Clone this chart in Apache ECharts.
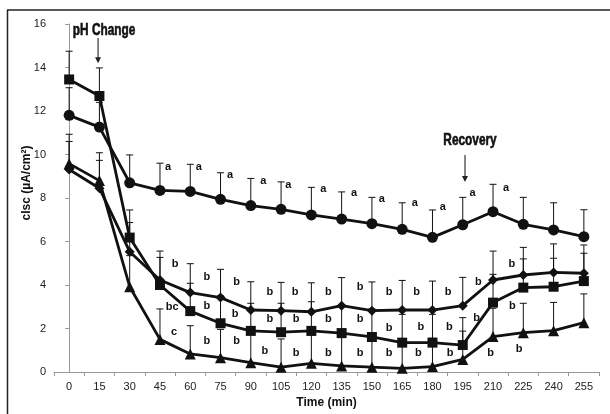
<!DOCTYPE html>
<html>
<head>
<meta charset="utf-8">
<script src="https://cdn.jsdelivr.net/npm/echarts@6/dist/echarts.min.js"></script>
<style>
  html, body { margin: 0; padding: 0; background: #fff; }
  #chart { width: 610px; height: 414px; }
</style>
</head>
<body>
<div id="chart"></div>
<script>
// time points (min)
const times = [0, 15, 30, 45, 60, 75, 90, 105, 120, 135, 150, 165, 180, 195, 210, 225, 240, 255];
const yTicks = [0, 2, 4, 6, 8, 10, 12, 14, 16];

// cIsc means and upper SE per group
const circleMean = [11.8, 11.26, 8.7, 8.35, 8.3, 7.94, 7.65, 7.48, 7.22, 7.03, 6.82, 6.56, 6.19, 6.77, 7.37, 6.79, 6.53, 6.22];
const circleSe = [1.27, 1.14, 1.28, 1.25, 1.25, 1.22, 1.25, 1.26, 1.27, 1.25, 1.21, 1.22, 1.26, 1.26, 1.26, 1.24, 1.25, 1.24];
const squareMean = [13.45, 12.69, 6.18, 4.0, 2.8, 2.24, 1.89, 1.83, 1.89, 1.79, 1.61, 1.35, 1.35, 1.24, 3.19, 3.88, 3.92, 4.18];
const squareSe = [1.3, 1.29, 1.27, 1.27, 1.28, 1.26, 1.27, 1.33, 1.34, 1.31, 1.29, 1.3, 1.3, 1.26, 1.3, 1.32, 1.31, 1.28];
const diamondMean = [9.31, 8.45, 5.53, 4.23, 3.65, 3.42, 2.85, 2.82, 2.77, 3.05, 2.82, 2.85, 2.85, 3.05, 4.23, 4.46, 4.58, 4.54];
const diamondSe = [1.29, 1.28, 1.34, 1.33, 1.33, 1.3, 1.3, 1.3, 1.33, 1.29, 1.32, 1.36, 1.33, 1.3, 1.33, 1.27, 1.31, 1.3];
const triangleMean = [9.58, 8.8, 3.92, 1.5, 0.83, 0.66, 0.43, 0.22, 0.4, 0.28, 0.22, 0.17, 0.25, 0.58, 1.63, 1.81, 1.9, 2.27];
const triangleSe = [1.35, 1.28, 1.43, 1.4, 1.3, 1.3, 1.3, 1.3, 1.3, 1.3, 1.3, 1.3, 1.3, 1.3, 1.3, 1.35, 1.3, 1.32];

// significance letters: [time, value, text]
const letters = [
  [49.0, 9.43, 'a'], [64.3, 9.43, 'a'], [79.7, 9.06, 'a'], [96.2, 8.8, 'a'], [108.6, 8.6, 'a'],
  [125.9, 8.4, 'a'], [141.1, 8.22, 'a'], [154.9, 7.94, 'a'], [171.3, 7.76, 'a'], [185.1, 7.6, 'a'],
  [199.9, 8.24, 'a'], [216.4, 8.45, 'a'],
  [52.5, 4.97, 'b'], [51.0, 3.0, 'bc'], [52.0, 1.85, 'c'],
  [68.2, 4.35, 'b'], [68.2, 3.05, 'b'], [68.2, 1.43, 'b'],
  [83.0, 4.12, 'b'], [82.2, 2.67, 'b'], [83.0, 1.43, 'b'],
  [99.5, 3.66, 'b'], [99.5, 2.42, 'b'], [97.0, 0.98, 'b'],
  [111.9, 3.66, 'b'], [112.4, 2.42, 'b'], [112.4, 0.86, 'b'],
  [128.4, 3.66, 'b'], [128.4, 2.42, 'b'], [128.4, 0.86, 'b'],
  [144.1, 3.89, 'b'], [144.1, 2.42, 'b'], [144.1, 0.86, 'b'],
  [158.5, 3.66, 'b'], [158.5, 2.01, 'b'], [158.5, 0.86, 'b'],
  [172.2, 3.69, 'b'], [174.2, 2.06, 'b'], [173.0, 0.86, 'b'],
  [187.8, 3.69, 'b'], [188.4, 2.06, 'b'], [188.7, 0.86, 'b'],
  [202.7, 4.15, 'b'], [201.9, 2.47, 'b'], [208.8, 0.86, 'b'],
  [219.3, 4.97, 'b'], [219.6, 3.05, 'b'], [222.9, 1.04, 'b']
];

// event arrows: [time, label value, arrow top, arrow tip, text]
const events = [
  [17.3, 15.68, 15.36, 14.2, 'pH Change'],
  [198.6, 10.62, 9.98, 8.74, 'Recovery']
];

const ink = '#111';

function errorBars(mean, se) {
  return {
    type: 'custom',
    silent: true,
    z: 1,
    encode: { x: 0, y: [1, 2] },
    data: mean.map((m, i) => [i, m, +(m + se[i]).toFixed(2)]),
    renderItem(params, api) {
      const lo = api.coord([api.value(0), api.value(1)]);
      const hi = api.coord([api.value(0), api.value(2)]);
      return {
        type: 'group',
        children: [
          { type: 'line', shape: { x1: lo[0], y1: lo[1], x2: hi[0], y2: hi[1] }, style: { stroke: ink, lineWidth: 1 } },
          { type: 'line', shape: { x1: hi[0] - 3.5, y1: hi[1], x2: hi[0] + 3.5, y2: hi[1] }, style: { stroke: ink, lineWidth: 1 } }
        ]
      };
    }
  };
}

function group(name, mean, symbol, size) {
  return {
    name, type: 'line', data: mean, z: 3,
    symbol, symbolSize: size, showSymbol: true,
    lineStyle: { color: ink, width: 2.8 },
    itemStyle: { color: ink, borderWidth: 0 }
  };
}

const chart = echarts.init(document.getElementById('chart'));
chart.setOption({
  animation: false,
  backgroundColor: '#fff',
  textStyle: { fontFamily: 'Liberation Sans, Arial, sans-serif' },
  grid: { left: 54, right: 11, top: 24, bottom: 42 },
  xAxis: [{
    type: 'category',
    data: times.map(String),
    boundaryGap: true,
    name: 'Time (min)',
    nameLocation: 'middle',
    nameGap: 23,
    nameTextStyle: { fontSize: 12, fontWeight: 'bold', color: ink },
    axisLine: { lineStyle: { color: '#9a9a9a', width: 1 } },
    axisTick: { show: true, length: 4, lineStyle: { color: '#9a9a9a' } },
    axisLabel: { fontSize: 11, color: '#222', margin: 9 },
    splitLine: { show: false }
  }, {
    type: 'value', min: -7.5, max: 262.5, show: false
  }],
  yAxis: {
    type: 'value',
    min: yTicks[0], max: yTicks[yTicks.length - 1], interval: 2,
    axisLine: { show: true, lineStyle: { color: '#9a9a9a', width: 1 } },
    axisTick: { show: true, length: 4, lineStyle: { color: '#9a9a9a' } },
    axisLabel: { fontSize: 11, color: '#222', margin: 8 },
    splitLine: { show: false }
  },
  graphic: [
    { type: 'line', shape: { x1: 7.5, y1: 10, x2: 7.5, y2: 414 }, style: { stroke: '#222', lineWidth: 1.5 } },
    { type: 'line', shape: { x1: 7, y1: 10, x2: 610, y2: 10 }, style: { stroke: '#222', lineWidth: 1.5 } },
    {
      type: 'text', x: 27, y: 183, rotation: Math.PI / 2,
      style: {
        text: 'cIsc (µA/cm²)', fill: ink, font: 'bold 12px Liberation Sans, Arial, sans-serif',
        align: 'center', verticalAlign: 'middle'
      }
    }
  ],
  series: [
    errorBars(circleMean, circleSe),
    errorBars(squareMean, squareSe),
    errorBars(diamondMean, diamondSe),
    errorBars(triangleMean, triangleSe),
    group('circle', circleMean, 'circle', 11),
    group('square', squareMean, 'rect', 10),
    group('diamond', diamondMean, 'diamond', 10),
    group('triangle', triangleMean, 'triangle', 11),
    {
      type: 'custom', xAxisIndex: 1, silent: true, z: 5,
      data: letters.map(d => [d[0], d[1]]),
      renderItem(params, api) {
        const p = api.coord([api.value(0), api.value(1)]);
        return {
          type: 'text', x: p[0], y: p[1],
          style: {
            text: letters[params.dataIndex][2], fill: ink,
            font: 'bold 11px Liberation Sans, Arial, sans-serif',
            align: 'center', verticalAlign: 'middle'
          }
        };
      }
    },
    {
      type: 'custom', xAxisIndex: 1, silent: true, z: 5,
      data: events.map(d => [d[0], d[1], d[2], d[3]]),
      renderItem(params, api) {
        const ev = events[params.dataIndex];
        const lab = api.coord([api.value(0), api.value(1)]);
        const top = api.coord([api.value(0), api.value(2)]);
        const tip = api.coord([api.value(0), api.value(3)]);
        const ax = lab[0] - (params.dataIndex === 0 ? 6 : 5);
        return {
          type: 'group',
          children: [
            {
              type: 'text', x: lab[0], y: lab[1], scaleX: 0.74,
              style: {
                text: ev[4], fill: ink, stroke: ink, lineWidth: 0.6,
                font: 'bold 16px Liberation Sans, Arial, sans-serif',
                align: 'center', verticalAlign: 'middle'
              }
            },
            { type: 'line', shape: { x1: ax, y1: top[1], x2: ax, y2: tip[1] - 5 }, style: { stroke: '#333', lineWidth: 1.2 } },
            { type: 'polygon', shape: { points: [[ax - 3, tip[1] - 6], [ax + 3, tip[1] - 6], [ax, tip[1]]] }, style: { fill: '#222' } }
          ]
        };
      }
    }
  ]
});
</script>
</body>
</html>
